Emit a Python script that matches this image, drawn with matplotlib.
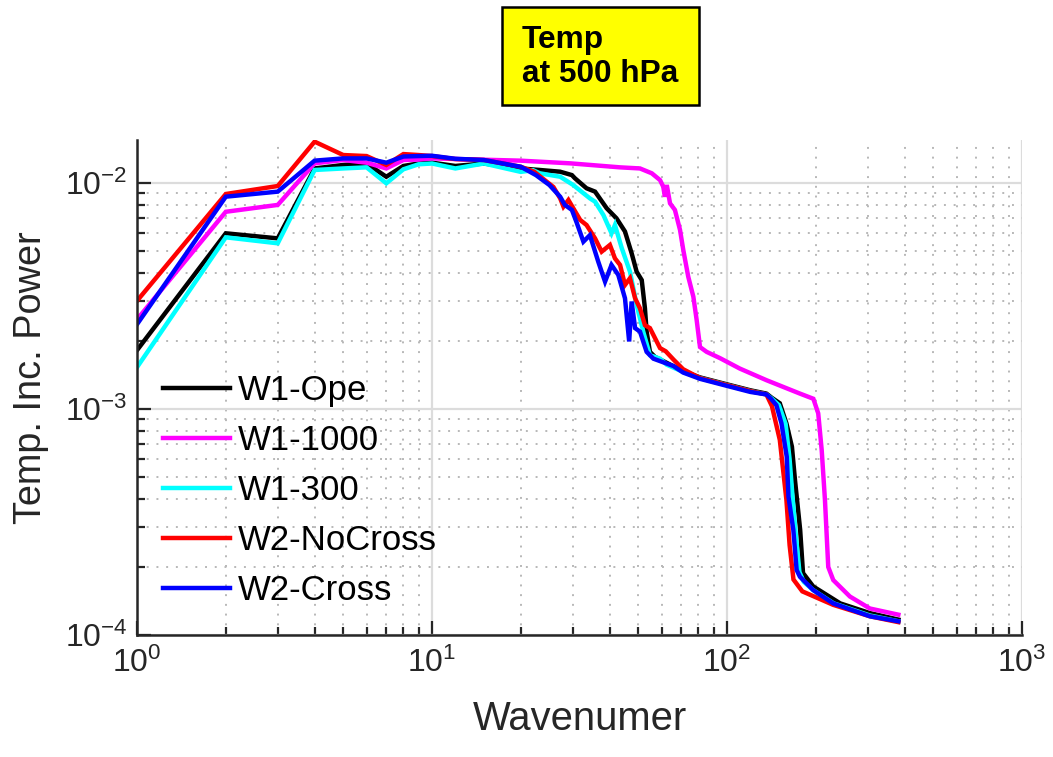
import matplotlib
matplotlib.use('Agg')
import matplotlib.pyplot as plt
from matplotlib.patches import Rectangle
from matplotlib.ticker import LogLocator

plt.rcParams['font.family'] = ['Liberation Sans', 'DejaVu Sans']
plt.rcParams['mathtext.fontset'] = 'custom'
plt.rcParams['mathtext.rm'] = 'Liberation Sans'
plt.rcParams['mathtext.it'] = 'Liberation Sans:italic'
plt.rcParams['mathtext.bf'] = 'Liberation Sans:bold'

# wavenumber / power
k_ope = [1, 2, 3, 4, 5, 6, 7, 8, 9, 10, 12, 15, 20, 23.2, 27.2, 29.8, 30.5, 33.4, 35.7,
         39.1, 42.2, 45.1, 47.5, 49.4, 51.4, 52.7, 53.4, 54.8, 57, 62.5, 71, 81, 99, 120,
         136, 142, 151, 159, 166, 170, 177, 181, 196, 242, 305, 381]
p_ope = [1.82e-3, 5.99e-3, 5.69e-3, 0.0116, 0.01202, 0.0122, 0.01066, 0.0119, 0.0122, 0.0123,
         0.0119, 0.0122, 0.0116, 0.01142, 0.01122, 0.01084, 0.0105, 0.00948, 0.00916,
         0.00773, 0.00698, 0.0061, 0.00489, 0.00405, 0.00372, 0.00279, 0.0022, 0.00179,
         0.0017, 0.0016, 0.00147, 0.00138, 0.00129, 0.00121, 0.00117, 0.00112, 0.00106,
         0.000864, 0.000681, 0.000485, 0.000292, 0.000188, 0.000164, 0.000138, 0.000125,
         0.000117]

k_1000 = [1, 2, 3, 4, 5, 6, 7, 8, 9, 10, 19.9, 29.4, 43.4, 50.7, 55.6, 59.3, 60.8, 61.6,
          62.5, 64.1, 66.6, 69.3, 71.1, 73.9, 76.9, 78.9, 81.0, 85.3, 94.6, 110.5, 136.3,
          176.7, 196.2, 203.8, 209.4, 214.8, 220.4, 229.2, 261, 305, 381]
p_1000 = [2.49e-3, 7.46e-3, 8.0e-3, 0.01222, 0.01264, 0.0123, 0.0116, 0.01264, 0.0127,
          0.01285, 0.01256, 0.01222, 0.01173, 0.0116, 0.01104, 0.0103, 0.00963, 0.00869,
          0.0098, 0.00813, 0.0076, 0.0062, 0.00505, 0.00385, 0.00314, 0.00248, 0.00188,
          0.00179, 0.00168, 0.00151, 0.00134, 0.00117, 0.00111, 0.000957, 0.000659,
          0.000396, 0.0002, 0.000175, 0.000148, 0.000131, 0.000123]

k_300 = [1, 2, 3, 4, 5, 6, 7, 8, 9, 10, 12, 15, 20, 22, 23.2, 27.2, 30.1, 34.3, 35.7, 38.1,
         40.6, 41.7, 44.0, 46.9, 49.4, 52.0, 54.8, 59.3, 62.5, 71, 81, 99, 120, 136, 142,
         150, 158, 163, 167, 171, 176, 182, 196, 230, 305, 381]
p_300 = [1.53e-3, 5.75e-3, 5.41e-3, 0.01142, 0.0116, 0.01173, 0.00997, 0.0115, 0.0121,
         0.0122, 0.0116, 0.0122, 0.0112, 0.0114, 0.01104, 0.01066, 0.0098, 0.00855, 0.00827,
         0.00722, 0.00599, 0.00652, 0.00514, 0.00405, 0.00289, 0.0022, 0.00173, 0.00167,
         0.00157, 0.00146, 0.00137, 0.00128, 0.0012, 0.00116, 0.00111, 0.00104, 0.00086,
         0.0006, 0.0004, 0.00028, 0.00019, 0.000172, 0.000158, 0.000138, 0.000122, 0.000115]

k_nocross = [1, 2, 3, 4, 5, 6, 7, 8, 9, 10, 12, 15, 20, 22.2, 24.5, 25.8, 27.2, 27.9, 29.0,
             31.8, 33.4, 35.7, 37.6, 40.1, 41.7, 43.4, 45.1, 46.9, 48.8, 50.7, 52.7, 54.8,
             57, 59.3, 62, 66, 71, 81, 99, 120, 136, 142, 151, 159, 163, 168, 180, 229, 305,
             381]
p_nocross = [3.01e-3, 8.94e-3, 9.7e-3, 0.01524, 0.0133, 0.01316, 0.01202, 0.01343, 0.0133,
             0.01316, 0.01276, 0.01264, 0.0118, 0.01122, 0.01013, 0.0096, 0.00855, 0.00786,
             0.00841, 0.00686, 0.00652, 0.00569, 0.00497, 0.00532, 0.00464, 0.00434,
             0.00354, 0.00379, 0.00309, 0.00279, 0.00235, 0.00228, 0.00206, 0.00186,
             0.0018, 0.00165, 0.0015, 0.00137, 0.00128, 0.0012, 0.00116, 0.00103, 0.00073,
             0.000396, 0.00025, 0.000176, 0.000156, 0.000136, 0.000121, 0.000114]

k_cross = [1, 2, 3, 4, 5, 6, 7, 8, 9, 10, 12, 15, 20, 22.5, 25, 27.2, 28.2, 29.8, 31, 32.6,
           34.3, 36.6, 38.6, 40.6, 42.8, 45.1, 46.6, 47.5, 48.8, 50.7, 53.4, 56.3, 65.8,
           71, 81, 99, 120, 136, 141, 147, 153, 159.4, 161.6, 167.8, 172.2, 176.7, 196,
           229, 305, 381]
p_cross = [2.37e-3, 8.7e-3, 9.16e-3, 0.01256, 0.01285, 0.01285, 0.0123, 0.0131, 0.01316,
           0.0132, 0.0128, 0.01264, 0.0118, 0.01084, 0.0098, 0.00869, 0.008, 0.0076,
           0.00663, 0.0055, 0.00588, 0.00449, 0.00366, 0.00434, 0.00392, 0.00309, 0.00199,
           0.00299, 0.00228, 0.0022, 0.00179, 0.00167, 0.00155, 0.00145, 0.00136, 0.00127,
           0.00119, 0.00116, 0.00111, 0.00104, 0.000864, 0.000615, 0.000409, 0.000292,
           0.000194, 0.000181, 0.000158, 0.000138, 0.000121, 0.000115]

names = ['W1-Ope', 'W1-1000', 'W1-300', 'W2-NoCross', 'W2-Cross']
colors = ['black', '#ff00ff', '#00ffff', '#ff0000', '#0000ff']

fig = plt.figure(figsize=(10.53, 7.57), dpi=100)
ax = fig.add_axes([137/1053, 1 - 635/757, 885/1053, 495/757])

series = [(k_ope, p_ope), (k_1000, p_1000), (k_300, p_300),
          (k_nocross, p_nocross), (k_cross, p_cross)]
for (kk, pp), nm, c in zip(series, names, colors):
    ax.plot(kk, pp, color=c, lw=3.2, label=nm, solid_joinstyle='miter')

ax.set_xscale('log')
ax.set_yscale('log')
ax.set_xlim(1, 1000)
ax.set_ylim(1e-4, 0.0155)
ax.xaxis.set_minor_locator(LogLocator(base=10, subs=range(2, 10)))
ax.yaxis.set_minor_locator(LogLocator(base=10, subs=range(2, 10)))

ax.set_axisbelow(True)
ax.grid(True, which='major', color='#dcdcdc', lw=1.6, ls='-')
ax.grid(True, which='minor', color='#b8b8b8', lw=1.4, ls=(0, (1, 4)))

for s in ['top', 'right']:
    ax.spines[s].set_visible(False)
for s in ['left', 'bottom']:
    ax.spines[s].set_linewidth(1.8)
    ax.spines[s].set_color('#262626')
ax.tick_params(which='both', direction='in', colors='#262626', labelsize=23, width=1.6)
ax.tick_params(which='major', length=10)
ax.tick_params(which='minor', length=6)
ax.tick_params(axis='x', which='major', pad=9)
ax.tick_params(axis='y', which='major', pad=7)

ax.set_xlabel('Wavenumer', fontsize=28.8, color='#262626')
ax.set_ylabel('Temp. Inc. Power', fontsize=27.3, color='#262626')
ax.xaxis.set_label_coords(0.5, (635 - 700) / 495)
ax.yaxis.set_label_coords((49 - 137) / 885, (635 - 378) / 495)

ax.legend(loc='center left', bbox_to_anchor=(0.0294, 0.291), frameon=False,
          fontsize=25, handlelength=1.93, handletextpad=0.23, labelspacing=0.49,
          borderpad=0, borderaxespad=0)

# title box
fig.patches.append(Rectangle((502/1053, 1 - 105/757), 197/1053, 98/757,
                             transform=fig.transFigure, facecolor='#ffff00',
                             edgecolor='black', lw=1.8))
fig.text(522/1053, 1 - 57/757, 'Temp\nat 500 hPa', fontsize=22.8, fontweight='bold',
         ha='left', va='center', linespacing=1.2)

fig.savefig('out.png', dpi=100)
